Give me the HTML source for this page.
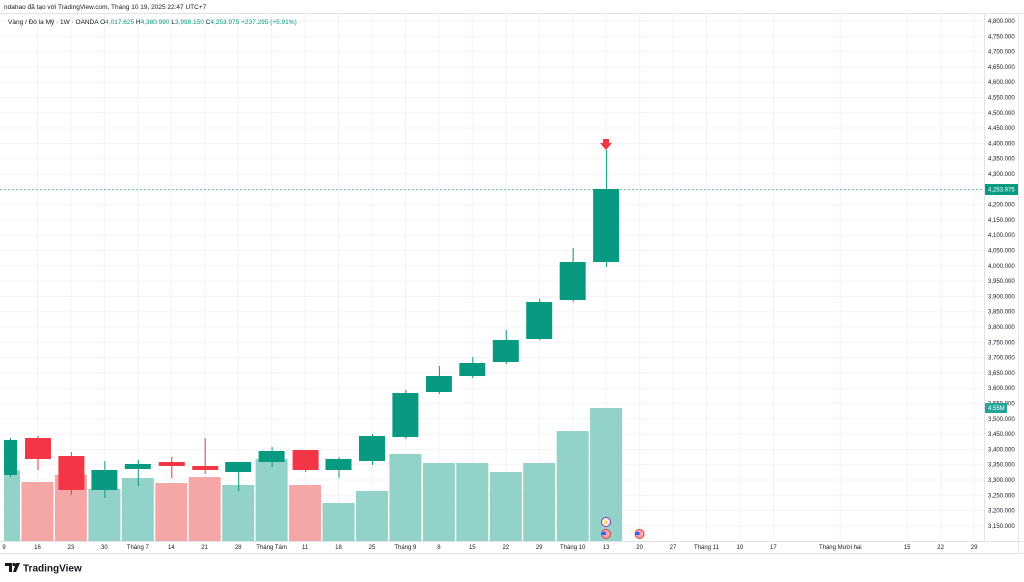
<!DOCTYPE html>
<html><head><meta charset="utf-8"><style>
html,body{margin:0;padding:0;background:#fff;width:1024px;height:582px;overflow:hidden}
svg{display:block;font-family:"Liberation Sans",sans-serif}
</style></head><body>
<svg width="1024" height="582" viewBox="0 0 1024 582">
<rect width="1024" height="582" fill="#fff"/>
<text x="4" y="9" font-size="6.5" fill="#131722">ndahao đã tạo với TradingView.com, Tháng 10 19, 2025 22:47 UTC+7</text>
<line x1="0" y1="13.5" x2="1024" y2="13.5" stroke="#e0e3eb"/>
<line x1="984.5" y1="13" x2="984.5" y2="541" stroke="#e0e3eb"/>
<line x1="0" y1="541.5" x2="1024" y2="541.5" stroke="#e0e3eb"/>
<line x1="0" y1="553.5" x2="1024" y2="553.5" stroke="#e0e3eb"/>
<line x1="1018.5" y1="13" x2="1018.5" y2="553" stroke="#e0e3eb"/>
<g stroke="#f2f3f6" stroke-width="1">
<line x1="0" x2="984" y1="21" y2="21"/><line x1="0" x2="984" y1="36.3" y2="36.3"/><line x1="0" x2="984" y1="51.6" y2="51.6"/><line x1="0" x2="984" y1="66.9" y2="66.9"/><line x1="0" x2="984" y1="82.2" y2="82.2"/><line x1="0" x2="984" y1="97.5" y2="97.5"/><line x1="0" x2="984" y1="112.8" y2="112.8"/><line x1="0" x2="984" y1="128.1" y2="128.1"/><line x1="0" x2="984" y1="143.4" y2="143.4"/><line x1="0" x2="984" y1="158.7" y2="158.7"/><line x1="0" x2="984" y1="174" y2="174"/><line x1="0" x2="984" y1="204.6" y2="204.6"/><line x1="0" x2="984" y1="219.9" y2="219.9"/><line x1="0" x2="984" y1="235.2" y2="235.2"/><line x1="0" x2="984" y1="250.5" y2="250.5"/><line x1="0" x2="984" y1="265.8" y2="265.8"/><line x1="0" x2="984" y1="281.1" y2="281.1"/><line x1="0" x2="984" y1="296.4" y2="296.4"/><line x1="0" x2="984" y1="311.7" y2="311.7"/><line x1="0" x2="984" y1="327" y2="327"/><line x1="0" x2="984" y1="342.3" y2="342.3"/><line x1="0" x2="984" y1="357.6" y2="357.6"/><line x1="0" x2="984" y1="372.9" y2="372.9"/><line x1="0" x2="984" y1="388.2" y2="388.2"/><line x1="0" x2="984" y1="403.5" y2="403.5"/><line x1="0" x2="984" y1="418.8" y2="418.8"/><line x1="0" x2="984" y1="434.1" y2="434.1"/><line x1="0" x2="984" y1="449.4" y2="449.4"/><line x1="0" x2="984" y1="464.7" y2="464.7"/><line x1="0" x2="984" y1="480" y2="480"/><line x1="0" x2="984" y1="495.3" y2="495.3"/><line x1="0" x2="984" y1="510.6" y2="510.6"/><line x1="0" x2="984" y1="525.9" y2="525.9"/>
<line y1="13" y2="541" x1="37.5" x2="37.5"/><line y1="13" y2="541" x1="70.9" x2="70.9"/><line y1="13" y2="541" x1="104.4" x2="104.4"/><line y1="13" y2="541" x1="137.8" x2="137.8"/><line y1="13" y2="541" x1="171.3" x2="171.3"/><line y1="13" y2="541" x1="204.7" x2="204.7"/><line y1="13" y2="541" x1="238.2" x2="238.2"/><line y1="13" y2="541" x1="271.6" x2="271.6"/><line y1="13" y2="541" x1="305.1" x2="305.1"/><line y1="13" y2="541" x1="338.5" x2="338.5"/><line y1="13" y2="541" x1="372" x2="372"/><line y1="13" y2="541" x1="405.4" x2="405.4"/><line y1="13" y2="541" x1="438.9" x2="438.9"/><line y1="13" y2="541" x1="472.3" x2="472.3"/><line y1="13" y2="541" x1="505.8" x2="505.8"/><line y1="13" y2="541" x1="539.2" x2="539.2"/><line y1="13" y2="541" x1="572.7" x2="572.7"/><line y1="13" y2="541" x1="606.1" x2="606.1"/><line y1="13" y2="541" x1="639.6" x2="639.6"/><line y1="13" y2="541" x1="673" x2="673"/><line y1="13" y2="541" x1="706.5" x2="706.5"/><line y1="13" y2="541" x1="739.9" x2="739.9"/><line y1="13" y2="541" x1="773.4" x2="773.4"/><line y1="13" y2="541" x1="840.3" x2="840.3"/><line y1="13" y2="541" x1="907.2" x2="907.2"/><line y1="13" y2="541" x1="940.6" x2="940.6"/><line y1="13" y2="541" x1="974.1" x2="974.1"/>
</g>
<text x="8" y="24" font-size="6.5" fill="#131722">Vàng / Đô la Mỹ · 1W · OANDA  O<tspan fill="#089981">4,017.625</tspan>  H<tspan fill="#089981">4,380.990</tspan>  L<tspan fill="#089981">3,998.150</tspan>  C<tspan fill="#089981">4,253.975  +237.295 (+5.91%)</tspan></text>
<!-- volume -->
<g fill="#92d2c8">
<rect x="4" y="470" width="16" height="71"/>
<rect x="88.4" y="489" width="32" height="52"/>
<rect x="121.8" y="478" width="32" height="63"/>
<rect x="222.2" y="485" width="32" height="56"/>
<rect x="255.6" y="459" width="32" height="82"/>
<rect x="322.5" y="503" width="32" height="38"/>
<rect x="356" y="491" width="32" height="50"/>
<rect x="389.4" y="454" width="32" height="87"/>
<rect x="422.9" y="463" width="32" height="78"/>
<rect x="456.3" y="463" width="32" height="78"/>
<rect x="489.8" y="472" width="32" height="69"/>
<rect x="523.2" y="463" width="32" height="78"/>
<rect x="556.7" y="431" width="32" height="110"/>
<rect x="590.1" y="408" width="32" height="133"/>
</g>
<g fill="#f5a6a6">
<rect x="21.5" y="482" width="32" height="59"/>
<rect x="54.9" y="475" width="32" height="66"/>
<rect x="155.3" y="483" width="32" height="58"/>
<rect x="188.7" y="477" width="32" height="64"/>
<rect x="289.1" y="485" width="32" height="56"/>
</g>
<!-- candles -->
<g stroke="#089981" stroke-width="1">
<line x1="10.5" x2="10.5" y1="438" y2="477"/>
<line x1="104.9" x2="104.9" y1="461" y2="498"/>
<line x1="138.3" x2="138.3" y1="460" y2="486"/>
<line x1="238.7" x2="238.7" y1="462" y2="491"/>
<line x1="272.1" x2="272.1" y1="447" y2="467"/>
<line x1="339" x2="339" y1="457" y2="478"/>
<line x1="372.5" x2="372.5" y1="434" y2="465"/>
<line x1="405.9" x2="405.9" y1="390" y2="439"/>
<line x1="439.4" x2="439.4" y1="366" y2="394"/>
<line x1="472.8" x2="472.8" y1="357" y2="378"/>
<line x1="506.3" x2="506.3" y1="330" y2="364"/>
<line x1="539.7" x2="539.7" y1="299" y2="340"/>
<line x1="573.2" x2="573.2" y1="248" y2="302"/>
<line x1="606.6" x2="606.6" y1="150" y2="267"/>
</g>
<g fill="#089981">
<rect x="4" y="440" width="13" height="35"/>
<rect x="91.4" y="470" width="26" height="20"/>
<rect x="124.8" y="464" width="26" height="5"/>
<rect x="225.2" y="462" width="26" height="10"/>
<rect x="258.6" y="451" width="26" height="11"/>
<rect x="325.5" y="459" width="26" height="11"/>
<rect x="359" y="436" width="26" height="25"/>
<rect x="392.4" y="393" width="26" height="44"/>
<rect x="425.9" y="376" width="26" height="16"/>
<rect x="459.3" y="363" width="26" height="13"/>
<rect x="492.8" y="340" width="26" height="22"/>
<rect x="526.2" y="302" width="26" height="37"/>
<rect x="559.7" y="262" width="26" height="38"/>
<rect x="593.1" y="189" width="26" height="73"/>
</g>
<g stroke="#f23645" stroke-width="1">
<line x1="38" x2="38" y1="436" y2="470"/>
<line x1="71.4" x2="71.4" y1="452" y2="495"/>
<line x1="171.8" x2="171.8" y1="457" y2="478"/>
<line x1="205.2" x2="205.2" y1="438" y2="474"/>
<line x1="305.6" x2="305.6" y1="450" y2="472"/>
</g>
<g fill="#f23645">
<rect x="25" y="438" width="26" height="21"/>
<rect x="58.4" y="456" width="26" height="34"/>
<rect x="158.8" y="462" width="26" height="4"/>
<rect x="192.2" y="466" width="26" height="4"/>
<rect x="292.6" y="450" width="26" height="20"/>
</g>
<path d="M603 139h6v4h3l-6 7-6-7h3z" fill="#f23645"/>
<line x1="0" x2="984" y1="189.5" y2="189.5" stroke="#089981" stroke-dasharray="2 2" stroke-opacity="0.6"/>
<!-- events -->
<circle cx="606" cy="522" r="4.5" fill="#fff" stroke="#9c27b0"/><text x="606" y="524.5" font-size="6" fill="#9c27b0" text-anchor="middle">⚡</text>
<circle cx="606" cy="534" r="4.5" fill="#f5a6a6" stroke="#f23645"/><rect x="602" y="532" width="4" height="3" fill="#2962ff"/>
<circle cx="639.6" cy="534" r="4.5" fill="#f5a6a6" stroke="#f23645"/><rect x="635.6" y="532" width="4" height="3" fill="#2962ff"/>
<!-- price labels -->
<g font-size="6" fill="#131722" text-anchor="start">
<text x="988" y="23">4,800.000</text><text x="988" y="38.3">4,750.000</text><text x="988" y="53.6">4,700.000</text><text x="988" y="68.9">4,650.000</text><text x="988" y="84.2">4,600.000</text><text x="988" y="99.5">4,550.000</text><text x="988" y="114.8">4,500.000</text><text x="988" y="130.1">4,450.000</text><text x="988" y="145.4">4,400.000</text><text x="988" y="160.7">4,350.000</text><text x="988" y="176">4,300.000</text><text x="988" y="206.6">4,200.000</text><text x="988" y="221.9">4,150.000</text><text x="988" y="237.2">4,100.000</text><text x="988" y="252.5">4,050.000</text><text x="988" y="267.8">4,000.000</text><text x="988" y="283.1">3,950.000</text><text x="988" y="298.4">3,900.000</text><text x="988" y="313.7">3,850.000</text><text x="988" y="329">3,800.000</text><text x="988" y="344.3">3,750.000</text><text x="988" y="359.6">3,700.000</text><text x="988" y="374.9">3,650.000</text><text x="988" y="390.2">3,600.000</text><text x="988" y="405.5">3,550.000</text><text x="988" y="420.8">3,500.000</text><text x="988" y="436.1">3,450.000</text><text x="988" y="451.4">3,400.000</text><text x="988" y="466.7">3,350.000</text><text x="988" y="482">3,300.000</text><text x="988" y="497.3">3,250.000</text><text x="988" y="512.6">3,200.000</text><text x="988" y="527.9">3,150.000</text>
</g>
<rect x="985" y="184" width="33" height="11" fill="#089981"/>
<text x="988" y="191.5" font-size="6" fill="#fff">4,253.975</text>
<rect x="985" y="403" width="22" height="10" fill="#26a69a"/>
<text x="988" y="410" font-size="6" fill="#fff">4.55M</text>
<!-- time labels -->
<g font-size="6" fill="#131722" text-anchor="middle">
<text x="4" y="549">9</text><text x="37.5" y="549">16</text><text x="70.9" y="549">23</text><text x="104.4" y="549">30</text><text x="137.8" y="549">Tháng 7</text><text x="171.3" y="549">14</text><text x="204.7" y="549">21</text><text x="238.2" y="549">28</text><text x="271.6" y="549">Tháng Tám</text><text x="305.1" y="549">11</text><text x="338.5" y="549">18</text><text x="372" y="549">25</text><text x="405.4" y="549">Tháng 9</text><text x="438.9" y="549">8</text><text x="472.3" y="549">15</text><text x="505.8" y="549">22</text><text x="539.2" y="549">29</text><text x="572.7" y="549">Tháng 10</text><text x="606.1" y="549">13</text><text x="639.6" y="549">20</text><text x="673" y="549">27</text><text x="706.5" y="549">Tháng 11</text><text x="739.9" y="549">10</text><text x="773.4" y="549">17</text><text x="840.3" y="549">Tháng Mười hai</text><text x="907.2" y="549">15</text><text x="940.6" y="549">22</text><text x="974.1" y="549">29</text>
</g>
<!-- logo -->
<path d="M5 563h7v9h-3v-6h-4z" fill="#131722"/><circle cx="14" cy="564.5" r="1.6" fill="#131722"/><path d="M16 563h4l-4 9h-3z" fill="#131722"/>
<text x="23" y="571.5" font-size="10" font-weight="bold" fill="#131722">TradingView</text>
</svg>
</body></html>
